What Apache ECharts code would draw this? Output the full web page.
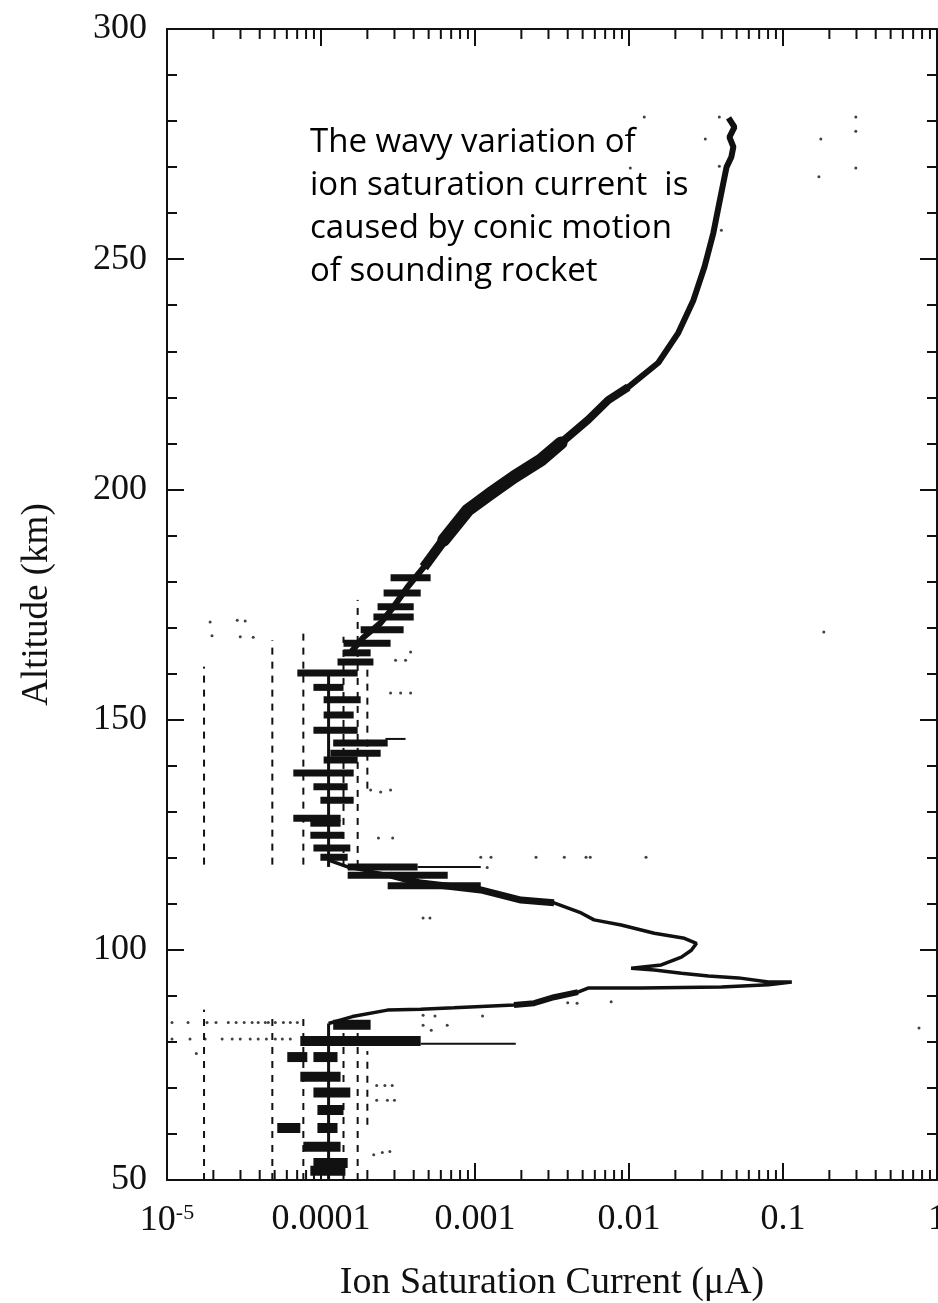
<!DOCTYPE html>
<html>
<head>
<meta charset="utf-8">
<script src="https://cdn.jsdelivr.net/npm/echarts@6/dist/echarts.min.js"></script>
<style>
  html, body { margin: 0; padding: 0; background: #fff; }
  #chart { width: 938px; height: 1303px; }
</style>
</head>
<body>
<div id="chart"></div>
<script>
// Ion saturation current profile measured by a sounding-rocket Langmuir probe.
// Pairs are [current (uA), altitude (km)].

// F-region profile, descending from apogee
const profileUpper = [
  [0.0443, 280.7], [0.0484, 278.7], [0.0449, 276.5], [0.0476, 274.4], [0.0462, 272.2],
  [0.0430, 270.0], [0.0410, 266.6], [0.0381, 261.3], [0.0353, 255.7], [0.0309, 248.3],
  [0.0262, 241.1], [0.0209, 234.0], [0.0155, 227.5], [0.00989, 222.2], [0.00733, 219.4],
  [0.00542, 215.1], [0.00362, 210.1], [0.00268, 206.4], [0.00179, 202.7], [0.00127, 199.2],
  [0.000898, 195.5], [0.000627, 189.0], [0.000465, 183.1], [0.000365, 178.8], [0.000296, 174.5],
  [0.000244, 171.0], [0.000189, 167.9], [0.000155, 164.5]
];

// Noisier stretches of the F-region profile
const profileSpreadOuter = [
  [0.00989, 222.2], [0.00733, 219.4], [0.00542, 215.1], [0.00362, 210.1]
];
const profileSpread = [
  [0.00362, 210.1], [0.00268, 206.4], [0.00179, 202.7], [0.00127, 199.2],
  [0.000898, 195.5], [0.000627, 189.0]
];
const profileSpreadLow = [
  [0.000627, 189.0], [0.000465, 183.1]
];

// E-region layer with the sporadic peak near 93 km
const profileLower = [
  [0.000112, 119.5], [0.000149, 118.0], [0.000283, 116.2], [0.000444, 114.5], [0.00109, 113.0],
  [0.00199, 110.8], [0.00326, 110.2], [0.00489, 108.0], [0.00593, 106.5], [0.00889, 105.4],
  [0.0146, 103.6], [0.0229, 102.5], [0.0274, 101.4], [0.0254, 99.9], [0.0219, 98.4],
  [0.0162, 96.7], [0.01033, 96.0], [0.0146, 95.6], [0.0219, 94.9], [0.0328, 94.3],
  [0.0514, 93.9], [0.0805, 93.0], [0.114, 93.0], [0.0805, 92.4], [0.0398, 91.9],
  [0.0120, 91.7], [0.00542, 91.7], [0.00466, 90.8], [0.00326, 89.7], [0.00242, 88.4],
  [0.00179, 88.0], [0.000728, 87.4], [0.000444, 87.1], [0.000270, 86.9], [0.000160, 85.5],
  [0.000112, 84.0]
];

const lowerSpread = [
  [0.000283, 116.2], [0.000444, 114.5], [0.00109, 113.0], [0.00199, 110.8], [0.00326, 110.2]
];
const lowerSpread2 = [
  [0.00466, 90.8], [0.00326, 89.7], [0.00242, 88.4], [0.00179, 88.0]
];

// Spin-modulated samples near the noise floor: [altitude, current low, current high]
const upperRungs = [
  [180.8, 2.83e-4, 5.15e-4], [177.5, 2.55e-4, 4.44e-4], [174.5, 2.33e-4, 4.00e-4],
  [172.3, 2.19e-4, 4.00e-4], [169.5, 1.81e-4, 3.44e-4], [166.6, 1.40e-4, 2.83e-4],
  [164.5, 1.40e-4, 2.10e-4], [162.5, 1.28e-4, 2.19e-4], [160.1, 7.02e-5, 1.73e-4],
  [157.0, 8.93e-5, 1.40e-4], [154.3, 1.04e-4, 1.81e-4], [151.0, 1.04e-4, 1.63e-4],
  [147.7, 8.93e-5, 1.73e-4], [144.9, 1.20e-4, 2.71e-4], [142.7, 1.15e-4, 2.44e-4],
  [141.2, 1.04e-4, 1.73e-4], [138.4, 6.61e-5, 1.63e-4], [135.4, 8.93e-5, 1.49e-4],
  [132.5, 9.91e-5, 1.63e-4], [128.6, 6.61e-5, 1.34e-4], [127.5, 8.53e-5, 1.34e-4],
  [124.9, 8.53e-5, 1.40e-4], [122.1, 8.93e-5, 1.55e-4], [120.1, 9.91e-5, 1.49e-4],
  [118.0, 1.49e-4, 4.24e-4], [116.2, 1.49e-4, 6.65e-4], [113.9, 2.71e-4, 1.09e-3]
];

const lowerBlobs = [
  [83.7, 1.20e-4, 2.10e-4], [80.2, 7.34e-5, 4.44e-4],
  [76.7, 6.04e-5, 8.15e-5], [76.7, 8.93e-5, 1.28e-4],
  [72.4, 7.34e-5, 1.34e-4], [69.0, 8.93e-5, 1.55e-4], [65.2, 9.48e-5, 1.40e-4],
  [61.3, 5.20e-5, 7.34e-5], [61.3, 9.48e-5, 1.28e-4],
  [57.2, 7.68e-5, 1.34e-4], [53.7, 8.93e-5, 1.49e-4], [52.0, 8.53e-5, 1.44e-4]
];

const thinStreaks = [
  [79.6, 4.44e-4, 1.84e-3], [118.0, 4.24e-4, 1.09e-3], [145.8, 2.62e-4, 3.54e-4]
];

// Quantisation levels of the electrometer: [current, altitude low, altitude high]
const levelSegments = [
  [1.74e-5, 50, 87.0], [1.74e-5, 118.5, 161.5],
  [4.83e-5, 50, 85.5], [4.83e-5, 118.5, 167.3],
  [7.68e-5, 50, 86.0], [7.68e-5, 118.5, 170.1],
  [1.40e-4, 50, 86.0], [1.40e-4, 118.0, 168.0],
  [1.73e-4, 50, 84.4], [1.73e-4, 118.0, 176.0],
  [2.00e-4, 62, 78.0], [2.00e-4, 135.0, 162.0]
];
const centreColumn = [
  [1.12e-4, 50, 84.0], [1.12e-4, 118.0, 160.0]
];

// Isolated samples
const straySamples = [
  [0.01256, 280.9], [0.0386, 280.9], [0.0313, 276.1], [0.0102, 269.8], [0.0386, 270.2],
  [0.0398, 256.3], [0.176, 276.1], [0.171, 267.9], [0.297, 280.9], [0.297, 277.8],
  [0.297, 269.8], [0.184, 169.0], [0.764, 83.0],
  [1.905e-5, 171.2], [2.86e-5, 171.6], [3.22e-5, 171.4], [1.96e-5, 168.2], [2.99e-5, 168.0], [3.63e-5, 167.9],
  [3.82e-4, 164.7], [3.05e-4, 162.9], [3.54e-4, 162.9], [2.83e-4, 155.8], [3.29e-4, 155.8], [3.82e-4, 155.8],
  [2.10e-4, 134.7], [2.44e-4, 134.3], [2.83e-4, 134.7], [2.36e-4, 124.3], [2.92e-4, 124.3],
  [1.09e-3, 120.1], [1.27e-3, 120.1], [2.49e-3, 120.1], [3.8e-3, 120.1], [5.26e-3, 120.1], [5.6e-3, 120.1], [1.29e-2, 120.1],
  [1.2e-3, 117.9], [4.6e-4, 106.9], [5.1e-4, 106.9],
  [7.66e-3, 88.7], [4.0e-3, 88.5], [4.6e-3, 88.4],
  [4.6e-4, 85.8], [5.5e-4, 85.6], [1.12e-3, 85.6], [4.6e-4, 83.6], [6.6e-4, 83.6], [5.2e-4, 82.5],
  [1.078e-5, 84.2], [1.37e-5, 84.2], [1.82e-5, 84.2], [2.08e-5, 84.2], [2.50e-5, 84.2],
  [2.81e-5, 84.2], [3.17e-5, 84.2], [3.57e-5, 84.2], [3.91e-5, 84.2], [4.35e-5, 84.2],
  [4.55e-5, 84.2], [5.05e-5, 84.2], [5.70e-5, 84.2], [6.32e-5, 84.2], [7.02e-5, 84.2],
  [1.078e-5, 80.6], [1.41e-5, 80.6], [1.77e-5, 80.6], [2.28e-5, 80.6], [2.65e-5, 80.6],
  [2.99e-5, 80.6], [3.47e-5, 80.6], [3.91e-5, 80.6], [4.42e-5, 80.6], [5.05e-5, 80.6],
  [5.61e-5, 80.6], [6.32e-5, 80.6], [1.55e-5, 77.5],
  [2.3e-4, 70.5], [2.6e-4, 70.5], [2.9e-4, 70.5], [2.3e-4, 67.3], [2.7e-4, 67.3], [3.0e-4, 67.3],
  [2.2e-4, 55.5], [2.5e-4, 56.0], [2.8e-4, 56.2]
];

// Tick values and labels of the log axis
const decadeLabels = { '-5': '{b|10}{s|-5}', '-4': '0.0001', '-3': '0.001', '-2': '0.01', '-1': '0.1', '0': '1' };
const minorTickValues = [];
for (let d = -5; d < 0; d++) {
  for (let k = 2; k <= 9; k++) minorTickValues.push([k * Math.pow(10, d)]);
}

const INK = '#111';
const SERIF = 'Liberation Serif';

function rungRenderer(thickness) {
  return function (params, api) {
    const alt = api.value(0);
    const p1 = api.coord([api.value(1), alt]);
    const p2 = api.coord([api.value(2), alt]);
    return {
      type: 'rect',
      shape: { x: p1[0], y: p1[1] - thickness / 2, width: Math.max(p2[0] - p1[0], 1), height: thickness },
      style: { fill: INK }
    };
  };
}

function verticalRenderer(width, dash) {
  return function (params, api) {
    const x = api.value(0);
    const p1 = api.coord([x, api.value(1)]);
    const p2 = api.coord([x, api.value(2)]);
    return {
      type: 'line',
      shape: { x1: p1[0], y1: p1[1], x2: p2[0], y2: p2[1] },
      style: { stroke: INK, lineWidth: width, lineDash: dash }
    };
  };
}

function minorTickRenderer(params, api) {
  const v = api.value(0);
  const b = api.coord([v, 50]);
  const t = api.coord([v, 300]);
  const len = 10;
  return {
    type: 'group',
    children: [
      { type: 'line', shape: { x1: b[0], y1: b[1], x2: b[0], y2: b[1] - len }, style: { stroke: INK, lineWidth: 2 } },
      { type: 'line', shape: { x1: t[0], y1: t[1], x2: t[0], y2: t[1] + len }, style: { stroke: INK, lineWidth: 2 } }
    ]
  };
}

const chart = echarts.init(document.getElementById('chart'));

const logAxisBase = {
  type: 'log',
  logBase: 10,
  min: 1e-5,
  max: 1,
  splitLine: { show: false },
  axisLine: { lineStyle: { color: INK, width: 2 } },
  axisTick: { inside: true, length: 17, lineStyle: { color: INK, width: 2 } }
};

const valueAxisBase = {
  type: 'value',
  min: 50,
  max: 300,
  interval: 50,
  splitLine: { show: false },
  axisLine: { show: true, lineStyle: { color: INK, width: 2 } },
  axisTick: { show: true, inside: true, length: 17, lineStyle: { color: INK, width: 2 } },
  minorTick: { show: true, splitNumber: 5, length: 10, lineStyle: { color: INK, width: 2 } }
};

chart.setOption({
  animation: false,
  backgroundColor: '#fff',
  grid: { left: 167, right: 1, top: 29, bottom: 123, containLabel: false, outerBoundsMode: 'none' },
  xAxis: [
    Object.assign({}, logAxisBase, {
      position: 'bottom',
      name: 'Ion Saturation Current (\u03bcA)',
      nameLocation: 'middle',
      nameGap: 84,
      nameTextStyle: { fontFamily: SERIF, fontSize: 38, color: INK },
      axisLabel: {
        margin: 22,
        color: INK,
        fontFamily: SERIF,
        fontSize: 36,
        formatter: function (v) { return decadeLabels[String(Math.round(Math.log10(v)))] || ''; },
        rich: {
          b: { fontFamily: SERIF, fontSize: 36, color: INK },
          s: { fontFamily: SERIF, fontSize: 22, color: INK, verticalAlign: 'top', padding: [0, 0, 16, 0] }
        }
      }
    }),
    Object.assign({}, logAxisBase, {
      position: 'top',
      axisLabel: { show: false }
    })
  ],
  yAxis: [
    Object.assign({}, valueAxisBase, {
      position: 'left',
      name: 'Altitude (km)',
      nameLocation: 'middle',
      nameGap: 111,
      nameRotate: 90,
      nameTextStyle: { fontFamily: SERIF, fontSize: 37, color: INK },
      axisLabel: { margin: 20, color: INK, fontFamily: SERIF, fontSize: 36 }
    }),
    Object.assign({}, valueAxisBase, {
      position: 'right',
      axisLabel: { show: false }
    })
  ],
  graphic: [{
    type: 'text',
    left: 310,
    top: 121,
    style: {
      text: 'The wavy variation of\nion saturation current  is\ncaused by conic motion\nof sounding rocket',
      font: '33px "Open Sans"',
      lineHeight: 43,
      fill: '#000'
    }
  }],
  series: [
    {
      type: 'custom', name: 'minor ticks', xAxisIndex: 0, yAxisIndex: 0,
      renderItem: minorTickRenderer, data: minorTickValues, encode: { x: 0 }, silent: true, clip: false
    },
    {
      type: 'custom', name: 'levels', renderItem: verticalRenderer(2, [7, 7]),
      data: levelSegments, encode: { x: 0, y: [1, 2] }, silent: true
    },
    {
      type: 'custom', name: 'centre', renderItem: verticalRenderer(3, null),
      data: centreColumn, encode: { x: 0, y: [1, 2] }, silent: true
    },
    {
      type: 'custom', name: 'upper rungs', renderItem: rungRenderer(7),
      data: upperRungs, encode: { x: [1, 2], y: 0 }, silent: true
    },
    {
      type: 'custom', name: 'lower blobs', renderItem: rungRenderer(10),
      data: lowerBlobs, encode: { x: [1, 2], y: 0 }, silent: true
    },
    {
      type: 'custom', name: 'streaks', renderItem: rungRenderer(2),
      data: thinStreaks, encode: { x: [1, 2], y: 0 }, silent: true
    },
    {
      type: 'line', name: 'F region', data: profileUpper, symbol: 'none',
      lineStyle: { color: INK, width: 6 }, silent: true
    },
    {
      type: 'line', name: 'F region spread outer', data: profileSpreadOuter, symbol: 'none',
      lineStyle: { color: INK, width: 8 }, silent: true
    },
    {
      type: 'line', name: 'F region spread', data: profileSpread, symbol: 'none',
      lineStyle: { color: INK, width: 13, join: 'round', cap: 'round' }, silent: true
    },
    {
      type: 'line', name: 'F region spread low', data: profileSpreadLow, symbol: 'none',
      lineStyle: { color: INK, width: 10 }, silent: true
    },
    {
      type: 'line', name: 'E region', data: profileLower, symbol: 'none',
      lineStyle: { color: INK, width: 3.5 }, silent: true
    },
    {
      type: 'line', name: 'E region spread', data: lowerSpread, symbol: 'none',
      lineStyle: { color: INK, width: 7 }, silent: true
    },
    {
      type: 'line', name: 'E region spread 2', data: lowerSpread2, symbol: 'none',
      lineStyle: { color: INK, width: 6 }, silent: true
    },
    {
      type: 'scatter', name: 'stray', data: straySamples, symbolSize: 3,
      itemStyle: { color: INK }, silent: true
    }
  ]
});
</script>
</body>
</html>
